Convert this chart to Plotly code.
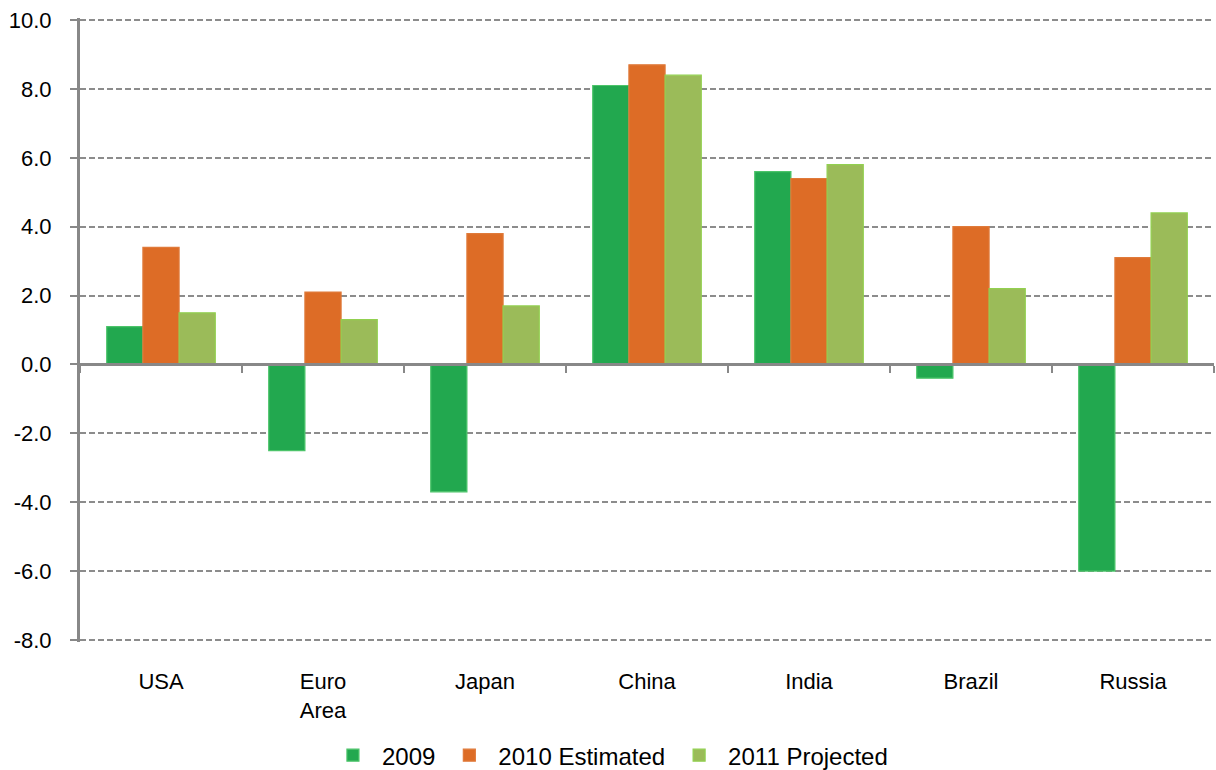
import plotly.graph_objects as go

categories = ["USA", "Euro<br>Area", "Japan", "China", "India", "Brazil", "Russia"]
series_names = ["2009", "2010 Estimated", "2011 Projected"]
v2009 = [1.1, -2.5, -3.7, 8.1, 5.6, -0.4, -6.0]
v2010 = [3.4, 2.1, 3.8, 8.7, 5.4, 4.0, 3.1]
v2011 = [1.5, 1.3, 1.7, 8.4, 5.8, 2.2, 4.4]
y_ticks = [-8, -6, -4, -2, 0, 2, 4, 6, 8, 10]
y_tick_labels = ["-8.0", "-6.0", "-4.0", "-2.0", "0.0", "2.0", "4.0", "6.0", "8.0", "10.0"]

colors = ["#22A84F", "#DD6C26", "#9BBB59"]
line_colors = ["#4CC46A", "#E07A3A", "#92D050"]

fig = go.Figure()
for name, vals, c, lc in zip(series_names, [v2009, v2010, v2011], colors, line_colors):
    fig.add_trace(go.Bar(x=categories, y=vals, name=name,
                         marker=dict(color=c, line=dict(color=lc, width=1.2))))

# invisible trace to carry the zero-positioned axis with boundary ticks
fig.add_trace(go.Scatter(x=categories, y=[0] * len(categories), xaxis="x2",
                         mode="lines", line=dict(width=0), showlegend=False,
                         hoverinfo="skip"))

font_family = "Liberation Sans, Arial, sans-serif"
y_lo, y_hi = -8.06, 10.06
fig.update_layout(
    width=1216, height=770,
    margin=dict(l=80, r=2, t=18, b=128, autoexpand=False),
    paper_bgcolor="white", plot_bgcolor="white",
    barmode="group", bargap=0.33, bargroupgap=0,
    font=dict(family=font_family, size=23, color="black"),
    showlegend=True,
    legend=dict(orientation="h", x=0.466, xanchor="center", y=-0.182, yanchor="middle",
                font=dict(size=24), itemwidth=48, traceorder="normal"),
    xaxis=dict(type="category", categoryarray=categories, range=[-0.5, 6.5],
               showline=False, showgrid=False, ticks="", zeroline=False, automargin=False,
               ticklabelstandoff=24, tickfont=dict(size=22)),
    xaxis2=dict(type="category", categoryarray=categories, range=[-0.5, 6.5],
                overlaying="x", anchor="free", position=(0 - y_lo) / (y_hi - y_lo),
                showline=True, linecolor="#888888", linewidth=3, automargin=False,
                ticks="outside", tickson="boundaries", ticklen=7, tickwidth=2,
                tickcolor="#888888", showticklabels=False, showgrid=False, zeroline=False),
    yaxis=dict(range=[y_lo, y_hi], tickvals=y_ticks, ticktext=y_tick_labels, automargin=False,
               showgrid=True, gridcolor="#8c8c8c", gridwidth=2, griddash="6px,3px",
               showline=True, linecolor="#888888", linewidth=3,
               ticks="outside", ticklen=7, tickwidth=2, tickcolor="#888888",
               zeroline=False, ticklabelstandoff=14, tickfont=dict(size=22)),
)

fig.write_html("out.html", config={"displayModeBar": False},
               post_script="document.body.style.margin='0';")
